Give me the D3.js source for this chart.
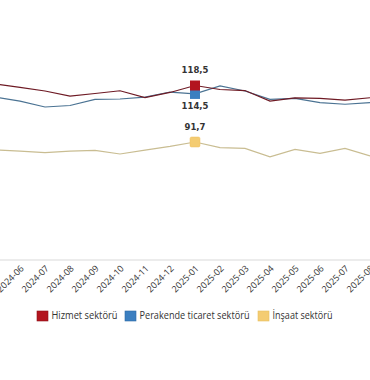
<!DOCTYPE html>
<html><head><meta charset="utf-8">
<script src="https://cdn.jsdelivr.net/npm/d3@7"></script>
<style>
html,body{margin:0;padding:0;background:#fff;overflow:hidden}
svg{display:block}
</style></head>
<body>
<svg id="c" width="370" height="380"></svg>
<script>
const months = ["2024-05","2024-06","2024-07","2024-08","2024-09","2024-10","2024-11","2024-12","2025-01","2025-02","2025-03","2025-04","2025-05","2025-06","2025-07","2025-08"];
const hizmet   = [119.2,117.6,115.9,113.5,114.7,116.0,112.8,115.2,118.5,116.6,116.1,111.1,112.6,112.4,111.6,112.7];
const perakende= [113.0,111.1,108.3,109.0,111.9,112.1,113.0,115.4,114.5,118.3,115.9,111.9,112.4,110.4,109.6,110.4];
const insaat   = [87.9,87.4,86.7,87.4,87.7,86.0,87.8,89.6,91.7,89.0,88.7,84.7,88.2,86.3,88.7,85.1];
const seriesNames = ["Hizmet sektörü","Perakende ticaret sektörü","İnşaat sektörü"];
const highlightMonth = "2025-01";
const highlightLabels = ["118,5","114,5","91,7"];

const svg = d3.select("#c");
const x = d3.scalePoint().domain(months).range([-5, 370]);
const y = d3.scaleLinear().domain([35.72, 118.5]).range([260, 85.5]);

svg.append("line").attr("x1",0).attr("x2",370).attr("y1",y(35.72)).attr("y2",y(35.72))
  .attr("stroke","#d9d9d9").attr("stroke-width",1);

const xAxis = d3.axisBottom(x).tickSize(0).tickPadding(0);
const gx = svg.append("g").attr("transform",`translate(0,${y(35.72)})`).call(xAxis);
gx.select(".domain").remove();
gx.selectAll("text")
  .attr("font-family","Open Sans, sans-serif").attr("font-size","9px").attr("fill","#333")
  .attr("text-anchor","end").attr("dy",0)
  .attr("transform","translate(4,9) rotate(-45)");

const lineColors = ["#6e1a24","#4b7393","#c9bd92"];
const markColors = ["#b3151f","#3b7fc0","#f4cc72"];
const data = [hizmet, perakende, insaat];
const line = d3.line().x((d,i)=>x(months[i])).y(d=>y(d));

[2,1,0].forEach(s=>{
  svg.append("path").datum(data[s]).attr("d",line)
    .attr("fill","none").attr("stroke",lineColors[s]).attr("stroke-width",1.2);
});

const hi = months.indexOf(highlightMonth);
const ms = 10;
[2,1,0].forEach(s=>{
  svg.append("rect")
    .attr("x",x(highlightMonth)-ms/2).attr("y",y(data[s][hi])-ms/2)
    .attr("width",ms).attr("height",ms).attr("rx",s===2?1.5:0)
    .attr("fill",markColors[s]).attr("stroke",s===2?"#f0c060":"none").attr("stroke-width",0.5);
});
const lblOff = [-15, 13, -14];
[0,1,2].forEach(s=>{
  svg.append("text").attr("x",x(highlightMonth)).attr("y",y(data[s][hi])+lblOff[s])
    .attr("text-anchor","middle").attr("dominant-baseline","middle")
    .attr("font-family","DejaVu Sans, sans-serif").attr("font-size","8.5px").attr("font-weight","bold")
    .attr("fill","#333").text(highlightLabels[s]);
});

const legX = [37, 125, 258];
const legW = [66, 110, 60];
const leg = svg.append("g");
seriesNames.forEach((n,i)=>{
  leg.append("rect").attr("x",legX[i]).attr("y",311).attr("width",11).attr("height",10)
    .attr("fill",markColors[i]).attr("stroke",i===0?"#8e1118":(i===1?"#2d6aa5":"#e8c060")).attr("stroke-width",0.6);
  leg.append("text").attr("x",legX[i]+14.5).attr("y",316.5).attr("dominant-baseline","middle")
    .attr("font-family","Open Sans, sans-serif").attr("font-size","10.5px").attr("fill","#333")
    .attr("textLength",legW[i]).attr("lengthAdjust","spacingAndGlyphs").text(n);
});
</script>
</body></html>
